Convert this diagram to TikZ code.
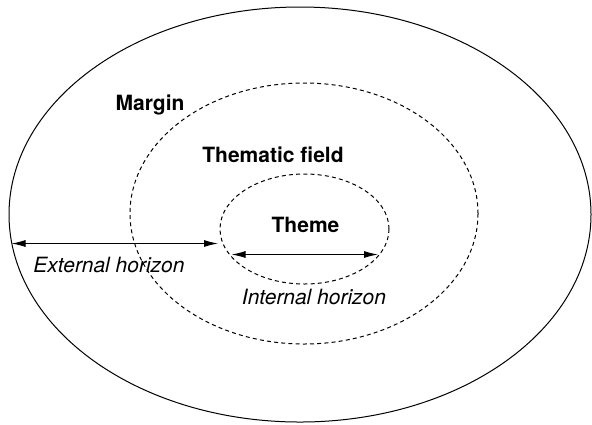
\documentclass[tikz,border=0pt]{standalone}
\usepackage{fontspec}
\setmainfont{TeX Gyre Heros}
\usetikzlibrary{arrows.meta,shapes.geometric}
\begin{document}
\begin{tikzpicture}[x=0.5pt,y=-0.5pt,
  ring/.style={draw,ellipse,inner sep=0pt,outer sep=0pt,line width=0.5pt},
  dashring/.style={ring,dash pattern=on 2pt off 1.6pt},
  lbl/.style={font=\fontsize{10.5}{12}\selectfont\bfseries,inner sep=0pt},
  hlbl/.style={font=\fontsize{10.5}{12}\selectfont\itshape,inner sep=0pt},
  dimarrow/.style={{Latex[length=7pt,width=3.5pt]}-{Latex[length=7pt,width=3.5pt]},line width=0.5pt}]
\useasboundingbox (0,0) rectangle (592,424);
\node[ring,minimum width=291pt,minimum height=207.5pt] (outer) at (300,214.5) {};
\node[dashring,minimum width=174pt,minimum height=130.5pt] (field) at (304,213.5) {};
\node[dashring,minimum width=84.5pt,minimum height=55pt] (theme) at (304.5,229) {};
\node[lbl] (margin) at (150,105) {Margin};
\node[lbl] (fieldlbl) at (273,155) {Thematic field};
\node[lbl] (themelbl) at (305.5,225) {Theme};
\node[hlbl] (ext) at (109,265) {External horizon};
\node[hlbl] (int) at (314,297) {Internal horizon};
\coordinate (ehL) at (11.5,243.5);
\coordinate (ehR) at (218,243.5);
\coordinate (ihL) at (231.5,254.5);
\coordinate (ihR) at (378,254.5);
\draw[dimarrow] (ehL) -- (ehR);
\draw[dimarrow] (ihL) -- (ihR);
\end{tikzpicture}
\end{document}
